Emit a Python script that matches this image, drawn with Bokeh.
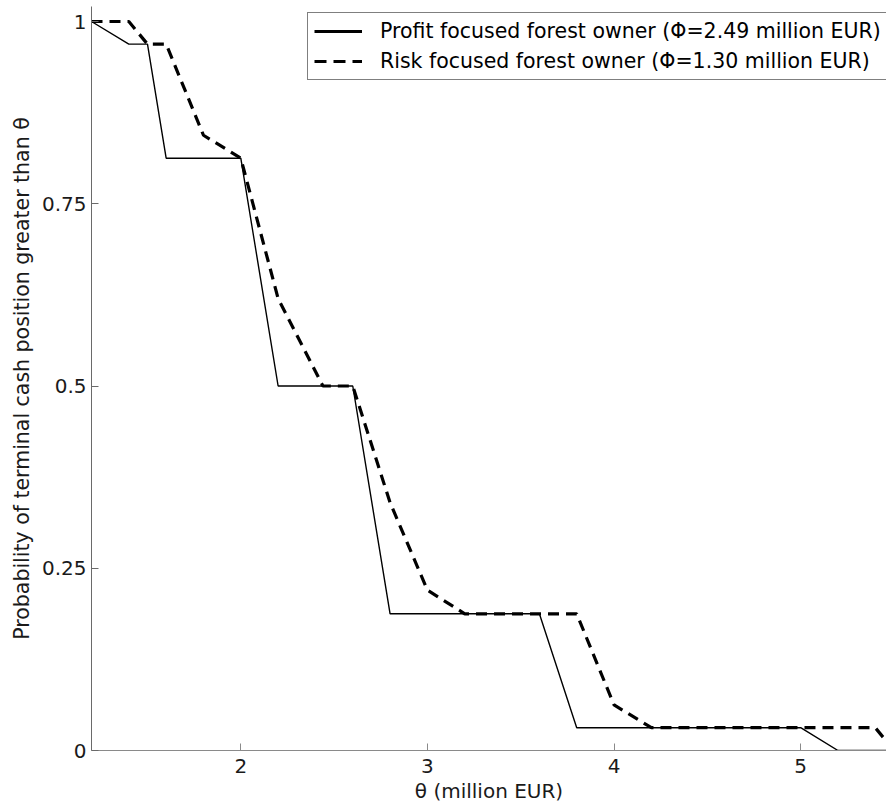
from bokeh.plotting import figure
from bokeh.models import Range1d, FixedTicker, Legend, LegendItem
from bokeh.embed import file_html
from bokeh.resources import INLINE

# Data
profit_x = [1.2, 1.4, 1.5, 1.6, 2.0, 2.2, 2.6, 2.8, 3.6, 3.8, 5.0, 5.2, 5.5]
profit_y = [1.0, 0.969, 0.969, 0.8125, 0.8125, 0.5, 0.5, 0.1875, 0.1875, 0.03125, 0.03125, 0.0, 0.0]

risk_x = [1.2, 1.4, 1.5, 1.6, 1.8, 2.0, 2.2, 2.44, 2.6, 2.8, 3.0, 3.2, 3.8, 4.0, 4.2, 5.4, 5.5]
risk_y = [1.0, 1.0, 0.969, 0.969, 0.844, 0.8125, 0.62, 0.5, 0.5, 0.34, 0.22, 0.1875, 0.1875, 0.0625, 0.03125, 0.03125, 0.0]

x_ticks = [2, 3, 4, 5]
y_ticks = [0, 0.25, 0.5, 0.75, 1]
y_tick_labels = {0: "0", 0.25: "0.25", 0.5: "0.5", 0.75: "0.75", 1: "1"}

profit_label = "Profit focused forest owner (\u03a6=2.49 million EUR)"
risk_label = "Risk focused forest owner (\u03a6=1.30 million EUR)"

FONT = "DejaVu Sans"
NAN = float("nan")

p = figure(width=886, height=805, output_backend="svg", toolbar_location=None,
           x_range=Range1d(1.2, 5.46), y_range=Range1d(0, 1.0206),
           min_border_left=91, min_border_right=0, min_border_top=6)
p.outline_line_color = None
p.grid.visible = False
p.background_fill_color = "white"
p.border_fill_color = "white"

p.line(profit_x, profit_y, line_color="black", line_width=1.4)
p.line(risk_x, risk_y, line_color="black", line_width=3.2, line_dash="11 7")

# legend-only renderers (thicker legend glyphs as in the reference)
lg1 = p.line([NAN], [NAN], line_color="black", line_width=3)
lg2 = p.line([NAN], [NAN], line_color="black", line_width=3, line_dash="12 7")

legend = Legend(items=[LegendItem(label=profit_label, renderers=[lg1]),
                       LegendItem(label=risk_label, renderers=[lg2])],
                location=(216, 670), padding=6, spacing=6, margin=0,
                label_height=24, label_width=580, glyph_width=48, glyph_height=24,
                label_standoff=18,
                label_text_font=FONT, label_text_font_size="20.5px",
                label_text_color="black",
                border_line_color="black", border_line_width=1,
                background_fill_alpha=1.0)
p.add_layout(legend)

for ax in (p.xaxis[0], p.yaxis[0]):
    ax.major_tick_in = 7
    ax.major_tick_out = 0
    ax.minor_tick_line_color = None
    ax.major_label_text_font = FONT
    ax.major_label_text_font_size = "20px"
    ax.major_label_text_color = "#1a1a1a"
    ax.major_label_text_line_height = 1.0
    ax.axis_label_text_font = FONT
    ax.axis_label_text_font_size = "20px"
    ax.axis_label_text_font_style = "normal"
    ax.axis_label_text_color = "#1a1a1a"
    ax.axis_label_text_line_height = 1.0

p.yaxis.axis_label_text_font_size = "20.5px"

p.xaxis.ticker = FixedTicker(ticks=x_ticks)
p.yaxis.ticker = FixedTicker(ticks=y_ticks)
p.yaxis.major_label_overrides = y_tick_labels

p.xaxis.axis_line_color = "#8a8a8a"
p.xaxis.major_tick_line_color = "#8a8a8a"
p.yaxis.axis_line_color = "#6a6a6a"
p.yaxis.major_tick_line_color = "#6a6a6a"

p.xaxis.major_label_standoff = 8
p.xaxis.axis_label_standoff = 3
p.yaxis.major_label_standoff = 5
p.yaxis.axis_label_standoff = 5

p.xaxis.axis_label = "\u03b8 (million EUR)"
p.yaxis.axis_label = "Probability of terminal cash position greater than \u03b8"

open("out.html", "w").write(file_html(p, INLINE))
